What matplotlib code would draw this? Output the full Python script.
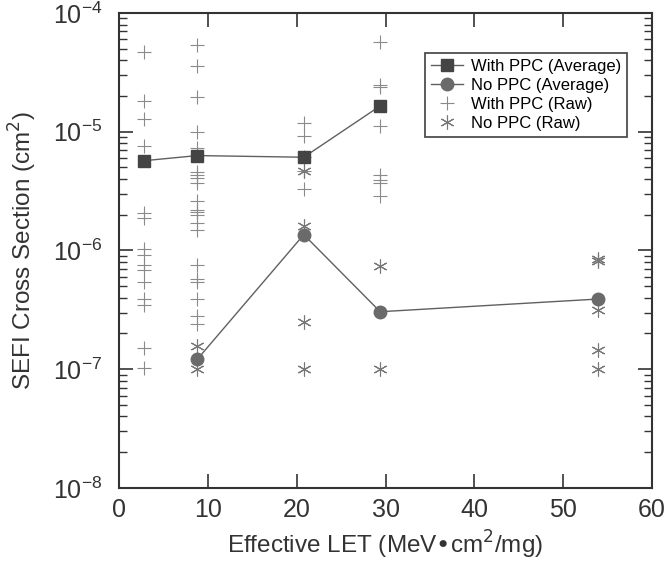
import numpy as np
import matplotlib.pyplot as plt
from matplotlib.ticker import LogLocator, NullFormatter

plt.rcParams['font.family'] = ['Liberation Sans', 'DejaVu Sans']
plt.rcParams['axes.unicode_minus'] = False

# averages
let_avg_ppc = [2.8, 8.8, 20.8, 29.4]
sefi_avg_ppc = [5.7e-6, 6.3e-6, 6.1e-6, 1.65e-5]
let_avg_noppc = [8.8, 20.8, 29.4, 53.9]
sefi_avg_noppc = [1.21e-7, 1.36e-6, 3.05e-7, 3.9e-7]

# raw points, with PPC
raw_ppc_3 = [4.7e-5, 1.82e-5, 1.29e-5, 7.6e-6, 2.05e-6, 1.86e-6, 1.02e-6, 9.1e-7,
             7.6e-7, 6.8e-7, 5.4e-7, 3.9e-7, 3.5e-7, 1.5e-7, 1.02e-7]
raw_ppc_9 = [5.4e-5, 3.6e-5, 1.97e-5, 1.0e-5, 7.3e-6, 4.6e-6, 4.3e-6, 4.1e-6, 3.7e-6,
             2.6e-6, 2.2e-6, 2.1e-6, 2.0e-6, 1.72e-6, 1.5e-6, 7.6e-7, 5.8e-7, 5.4e-7,
             3.9e-7, 2.8e-7, 2.4e-7]
raw_ppc_21 = [1.19e-5, 9.2e-6, 6.1e-6, 4.7e-6, 3.3e-6]
raw_ppc_29 = [5.7e-5, 2.48e-5, 2.39e-5, 1.12e-5, 4.36e-6, 3.95e-6, 3.7e-6, 2.85e-6]

# raw points, no PPC
raw_noppc_9 = [1.57e-7, 1.0e-7]
raw_noppc_21 = [4.7e-6, 1.6e-6, 2.5e-7, 1.0e-7]
raw_noppc_29 = [7.4e-7, 1.0e-7]
raw_noppc_54 = [8.5e-7, 8.1e-7, 3.15e-7, 1.45e-7, 1.0e-7]

fig = plt.figure(figsize=(6.66, 5.65), dpi=100)
ax = fig.add_axes([0.1787, 0.1363, 0.8003, 0.8407])

# raw data
x_ppc = [2.8] * len(raw_ppc_3) + [8.8] * len(raw_ppc_9) + [20.8] * len(raw_ppc_21) + [29.4] * len(raw_ppc_29)
y_ppc = raw_ppc_3 + raw_ppc_9 + raw_ppc_21 + raw_ppc_29
x_no = [8.8] * len(raw_noppc_9) + [20.8] * len(raw_noppc_21) + [29.4] * len(raw_noppc_29) + [53.9] * len(raw_noppc_54)
y_no = raw_noppc_9 + raw_noppc_21 + raw_noppc_29 + raw_noppc_54

ax.plot(let_avg_ppc, sefi_avg_ppc, color='#606060', lw=1.0, marker='s', ms=9,
        mfc='#444444', mec='#444444', label='With PPC (Average)', zorder=3)
ax.plot(let_avg_noppc, sefi_avg_noppc, color='#606060', lw=1.0, marker='o', ms=9,
        mfc='#6a6a6a', mec='#6a6a6a', label='No PPC (Average)', zorder=3)
ax.plot(x_ppc, y_ppc, ls='none', marker='+', ms=10, mew=0.8, color='#8a8a8a',
        label='With PPC (Raw)', zorder=2)
ax.plot(x_no, y_no, ls='none', marker=(6, 2, 0), ms=10, mew=0.8, color='#777777',
        label='No PPC (Raw)', zorder=2)

ax.set_yscale('log')
ax.set_xlim(0, 60)
ax.set_ylim(1e-8, 1e-4)
ax.set_xticks([0, 10, 20, 30, 40, 50, 60])
ax.yaxis.set_major_locator(LogLocator(base=10, numticks=10))
ax.yaxis.set_minor_locator(LogLocator(base=10, subs=np.arange(2, 10), numticks=10))
ax.yaxis.set_minor_formatter(NullFormatter())

ax.tick_params(which='both', direction='in', top=True, right=True, colors='#333333',
               labelcolor='#333333')
ax.tick_params(which='major', length=10, width=1.2, labelsize=18)
ax.tick_params(which='minor', length=6, width=1.0)
ax.tick_params(axis='x', which='major', pad=7)
ax.tick_params(axis='y', which='major', pad=12)
for s in ax.spines.values():
    s.set_linewidth(1.5)
    s.set_color('#333333')

ax.set_xlabel('Effective LET (MeV\u2022cm$^2$/mg)', fontsize=17.5, color='#333333', labelpad=5)
ax.set_ylabel('SEFI Cross Section (cm$^2$)', fontsize=17.5, color='#333333', labelpad=10)

leg = ax.legend(loc='upper right', bbox_to_anchor=(0.953, 0.916), fontsize=12,
                frameon=True, fancybox=False, edgecolor='#222222', borderpad=0.35,
                borderaxespad=0, handlelength=1.9, handletextpad=0.5, labelspacing=0.25)
leg.get_frame().set_linewidth(1.3)

fig.savefig('out.png', dpi=100)
